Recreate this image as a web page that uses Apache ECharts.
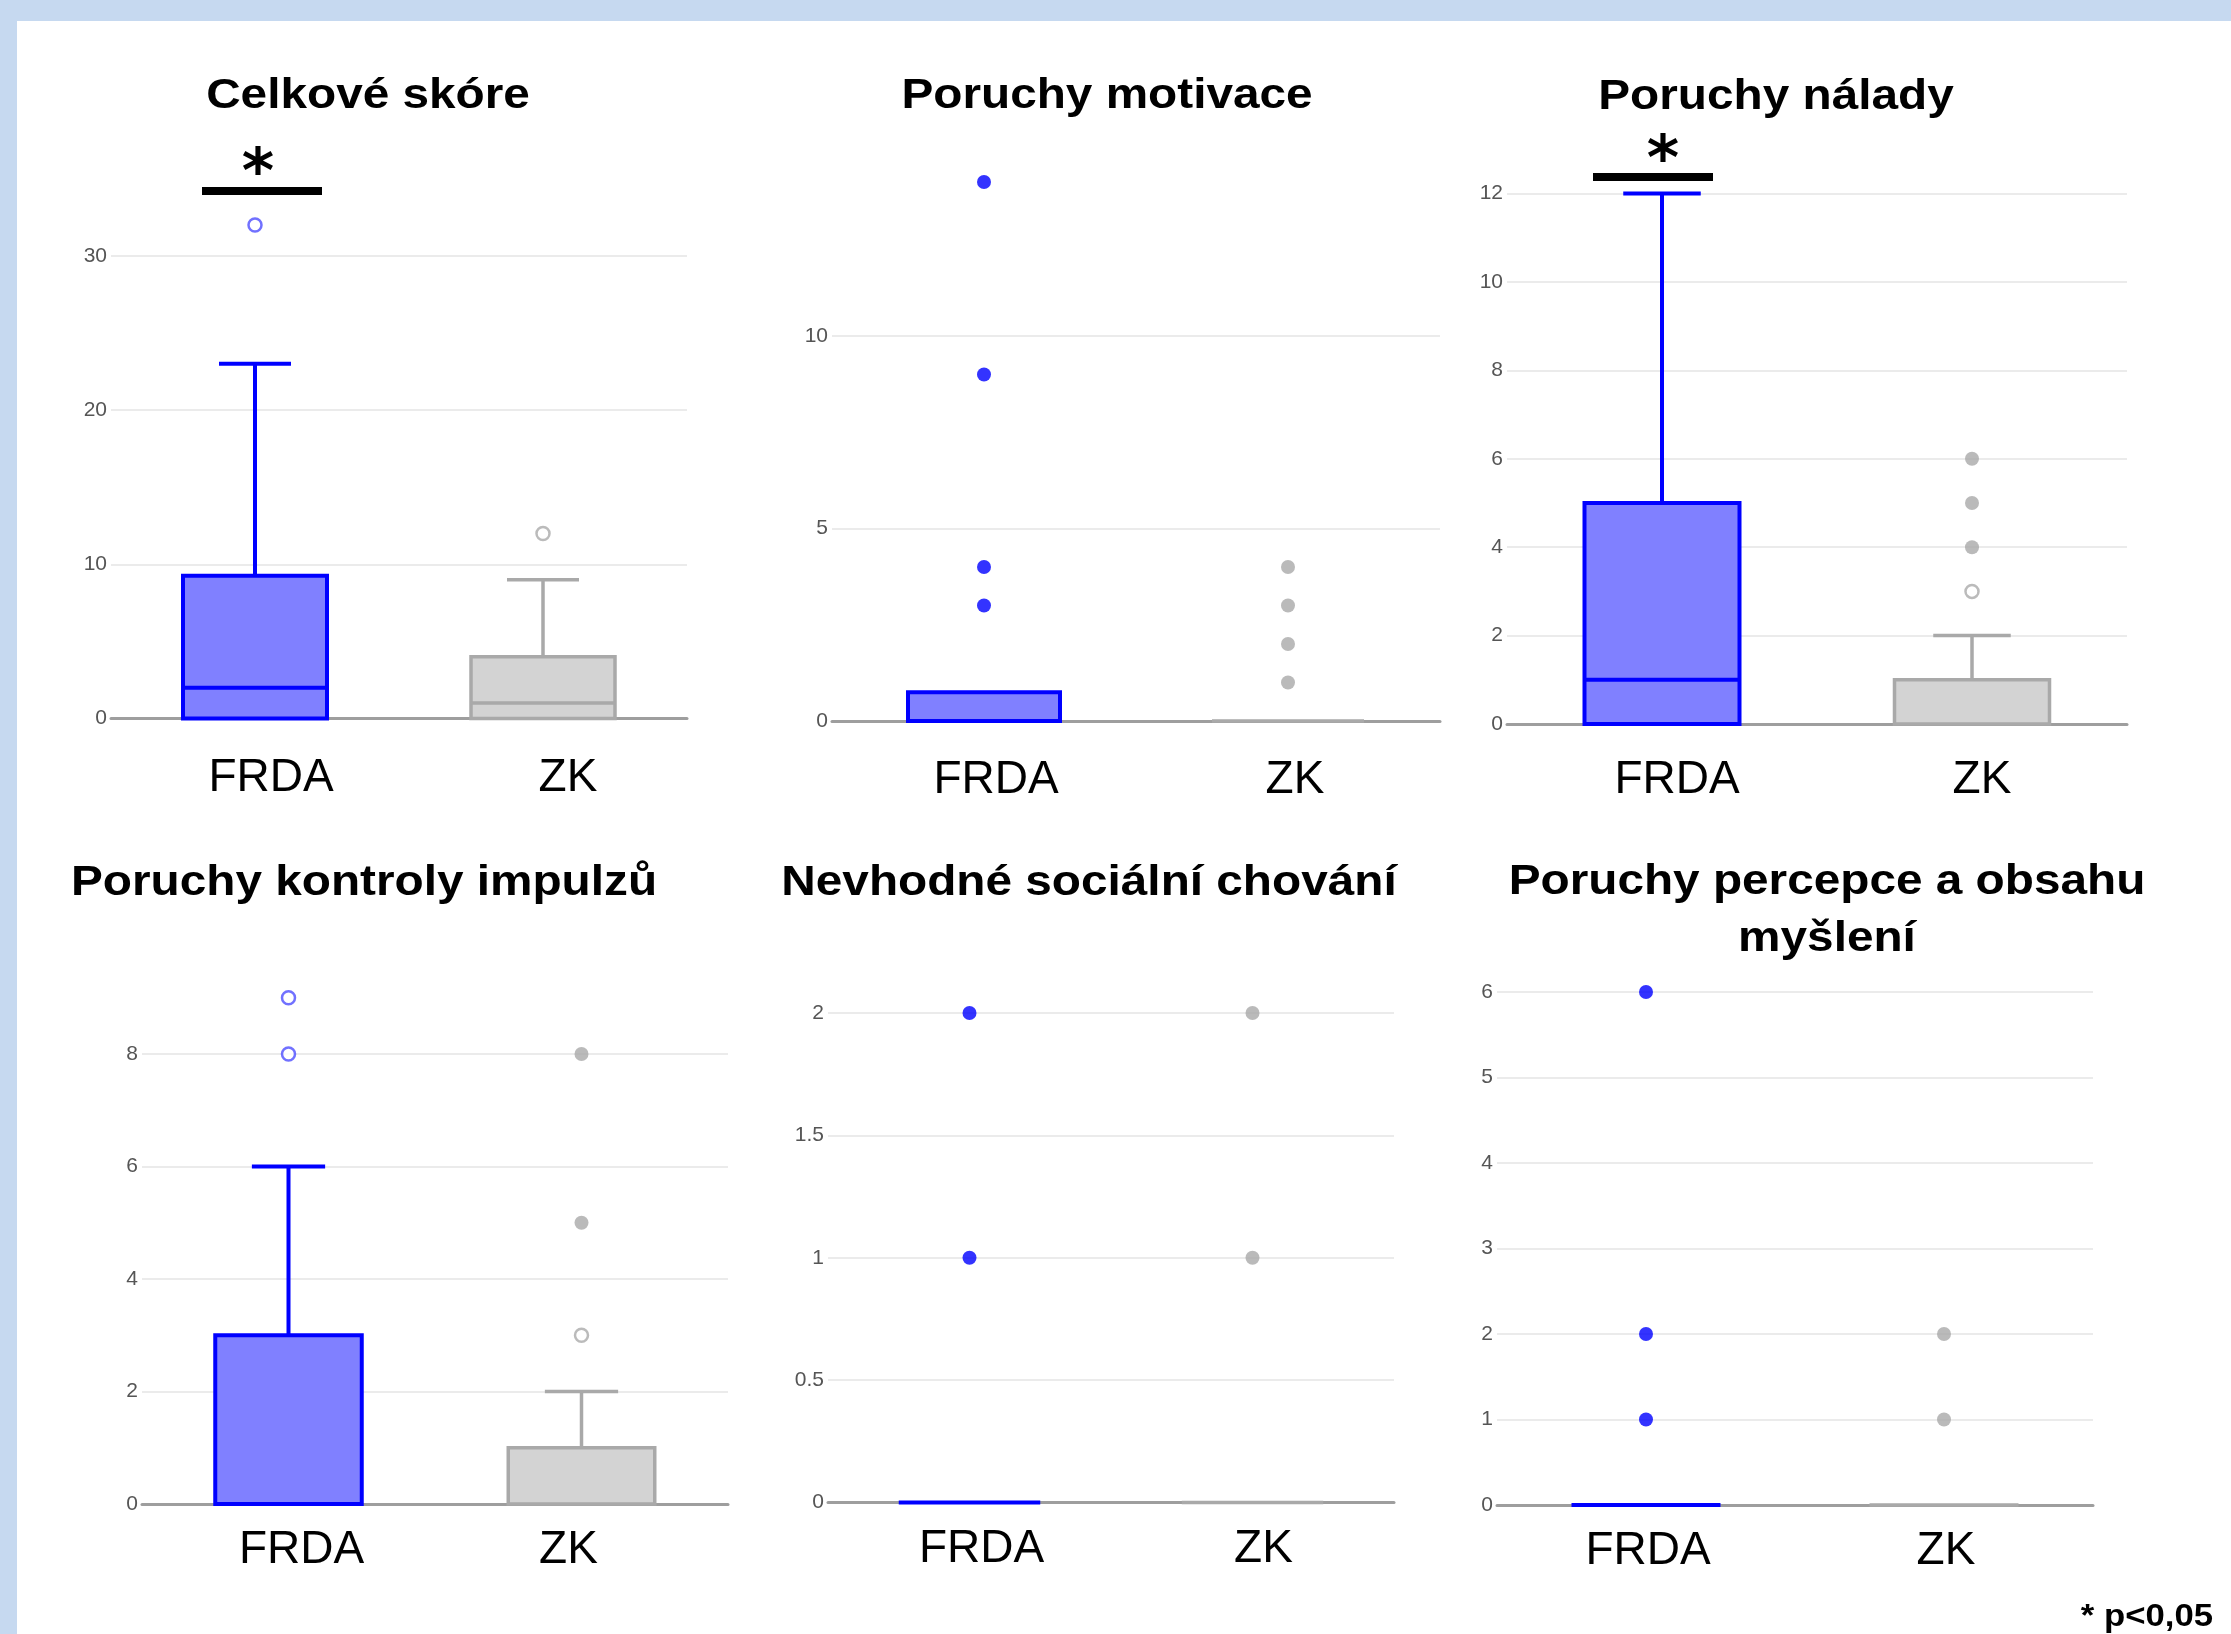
<!DOCTYPE html>
<html><head><meta charset="utf-8">
<script src="https://cdn.jsdelivr.net/npm/echarts@6/dist/echarts.min.js"></script>
<style>
html,body{margin:0;padding:0;width:2231px;height:1634px;background:#C6D9F0;overflow:hidden}
#panel{position:absolute;left:17px;top:21px;right:0;bottom:0;background:#fff}
#chart{position:absolute;left:0;top:0;width:2231px;height:1634px}
</style></head><body><div id="panel"></div><div id="chart"></div>
<script>
// ---------- DATA ----------
const categories = ['FRDA', 'ZK'];
const titles = ['Celkové skóre', 'Poruchy motivace', 'Poruchy nálady',
  'Poruchy kontroly impulzů', 'Nevhodné sociální chování', 'Poruchy percepce a obsahu\nmyšlení'];
// box statistics per panel: [min, Q1, median, Q3, upper whisker]
const frdaStats = [[0,0,2,9.25,23],[0,0,0,0.75,0.75],[0,0,1,5,12],[0,0,0,3,6],[0,0,0,0,0],[0,0,0,0,0]];
const zkStats   = [[0,0,1,4,9],[0,0,0,0,0],[0,0,0,1,2],[0,0,0,1,2],[0,0,0,0,0],[0,0,0,0,0]];
// outliers (filled = extreme points, hollow = outliers)
const frdaFilled = [[],[14,9,4,3],[],[],[2,1],[6,2,1]];
const frdaHollow = [[32],[],[],[9,8],[],[]];
const zkFilled   = [[],[4,3,2,1],[6,5,4],[8,5],[2,1],[2,1]];
const zkHollow   = [[12],[],[3],[3],[],[]];
// y tick labels per panel
const yTicks = [[0,10,20,30],[0,5,10],[0,2,4,6,8,10,12],[0,2,4,6,8],[0,0.5,1,1.5,2],[0,1,2,3,4,5,6]];
const significant = [true,false,true,false,false,false];
const footnote = '* p<0,05';

// ---------- LAYOUT / STYLE ----------
const layout = [
  {left:111, right:687, zero:718.5, unit:15.42, max:33, step:10, margin:37, shift:[16,25], title:[368,96]},
  {left:832, right:1440, zero:721, unit:38.5, max:15, step:5, margin:36, shift:[12,7], title:[1107,96]},
  {left:1507, right:2127, zero:724, unit:44.2, max:12, step:2, margin:33, shift:[15,10], title:[1776,97]},
  {left:142, right:728, zero:1504, unit:56.25, max:10, step:2, margin:23, shift:[13,-13], title:[364,883]},
  {left:828, right:1394, zero:1502.5, unit:244.75, max:2, step:0.5, margin:24, shift:[12,11], title:[1089,883]},
  {left:1497, right:2093, zero:1505, unit:85.5, max:6, step:1, margin:23, shift:[2,2], title:[1827,911]}
];
const sigLayout = {0:{lineY:191, starY:164, dx:7, starDx:-4}, 2:{lineY:177, starY:151, dx:-9, starDx:10}};
const boxStyle = [
  {fill:'#8080ff', stroke:'#0000ff', lw:4},
  {fill:'#d3d3d3', stroke:'#a9a9a9', lw:3.5}
];
const FONT = "'Liberation Sans', Arial, sans-serif";

function renderBox(params, api) {
  const k = api.value(0);
  const st = boxStyle[k];
  const v = [1,2,3,4,5].map(d => api.value(d));
  const cx = api.coord([k, 0])[0];
  const bw = api.size([1, 0])[0] * 0.5;
  const y = v.map(val => api.coord([k, val])[1]);
  const ls = {stroke: st.stroke, lineWidth: st.lw};
  const ch = [];
  if (v[4] > v[3]) {
    ch.push({type:'line', shape:{x1:cx, y1:y[3], x2:cx, y2:y[4]}, style:ls});
    ch.push({type:'line', shape:{x1:cx-bw/4, y1:y[4], x2:cx+bw/4, y2:y[4]}, style:ls});
  }
  if (v[0] < v[1]) {
    ch.push({type:'line', shape:{x1:cx, y1:y[1], x2:cx, y2:y[0]}, style:ls});
    ch.push({type:'line', shape:{x1:cx-bw/4, y1:y[0], x2:cx+bw/4, y2:y[0]}, style:ls});
  }
  if (v[3] > v[1]) {
    ch.push({type:'rect', shape:{x:cx-bw/2, y:y[3], width:bw, height:y[1]-y[3]},
      style:{fill:st.fill, stroke:st.stroke, lineWidth:st.lw}});
    if (v[2] > v[1]) ch.push({type:'line', shape:{x1:cx-bw/2, y1:y[2], x2:cx+bw/2, y2:y[2]}, style:ls});
  } else {
    ch.push({type:'line', shape:{x1:cx-bw/2, y1:y[1], x2:cx+bw/2, y2:y[1]}, style:ls});
  }
  return {type:'group', children: ch};
}

const grids = [], xAxes = [], yAxes = [], series = [];
layout.forEach((L, i) => {
  grids.push({left:L.left, width:L.right-L.left, top:L.zero - L.max*L.unit, height:L.max*L.unit,
    containLabel:false, outerBoundsMode:'none'});
  const pad = dx => dx >= 0 ? [0,0,0,2*dx] : [0,-2*dx,0,0];
  xAxes.push({type:'category', gridIndex:i, data:categories, boundaryGap:true,
    axisLine:{show:true, onZero:false, lineStyle:{color:'#9e9e9e', width:3}},
    axisTick:{show:false}, splitLine:{show:false},
    axisLabel:{margin:L.margin, color:'#000', fontSize:46, fontFamily:FONT, interval:0,
      formatter: v => '{' + (v === 'FRDA' ? 'a' : 'b') + '|' + v + '}',
      rich:{a:{fontSize:46, fontFamily:FONT, color:'#000', padding:pad(L.shift[0])},
            b:{fontSize:46, fontFamily:FONT, color:'#000', padding:pad(L.shift[1])}}}});
  yAxes.push({type:'value', gridIndex:i, min:0, max:L.max, interval:L.step,
    axisLine:{show:false}, axisTick:{show:false, customValues:yTicks[i]},
    axisLabel:{customValues:yTicks[i], margin:4, color:'#555555', fontSize:21, fontFamily:FONT},
    splitLine:{show:true, lineStyle:{color:'#ebebeb', width:2}}});
  series.push({type:'custom', xAxisIndex:i, yAxisIndex:i, renderItem:renderBox, clip:false,
    encode:{x:0, y:[1,2,3,4,5]},
    data:[[0].concat(frdaStats[i]), [1].concat(zkStats[i])], z:3});
  const pts = (arr, cat) => arr.map(v => [cat, v]);
  series.push({type:'scatter', xAxisIndex:i, yAxisIndex:i, symbol:'circle', symbolSize:14, z:4,
    itemStyle:{color:'#0000ff'}, data:pts(frdaFilled[i], 'FRDA')});
  series.push({type:'scatter', xAxisIndex:i, yAxisIndex:i, symbol:'circle', symbolSize:13, z:4,
    itemStyle:{color:'#ffffff', borderColor:'#4d4dff', borderWidth:2.5}, data:pts(frdaHollow[i], 'FRDA')});
  series.push({type:'scatter', xAxisIndex:i, yAxisIndex:i, symbol:'circle', symbolSize:14, z:4,
    itemStyle:{color:'#a9a9a9'}, data:pts(zkFilled[i], 'ZK')});
  series.push({type:'scatter', xAxisIndex:i, yAxisIndex:i, symbol:'circle', symbolSize:13, z:4,
    itemStyle:{color:'#ffffff', borderColor:'#aaaaaa', borderWidth:2.5}, data:pts(zkHollow[i], 'ZK')});
});

const chart = echarts.init(document.getElementById('chart'), null, {renderer:'canvas'});
chart.setOption({animation:false, backgroundColor:'transparent',
  grid:grids, xAxis:xAxes, yAxis:yAxes, series:series});

// titles, significance marks, footnote
const gfx = [];
layout.forEach((L, i) => {
  gfx.push({type:'text', x:L.title[0], y:L.title[1], scaleX:1.11, z:10,
    style:{x:0, y:0, text:titles[i], align:'center', verticalAlign:'middle',
      font:"bold 43px " + FONT, lineHeight:57, fill:'#000'}});
  if (significant[i]) {
    const s = sigLayout[i];
    const cx = chart.convertToPixel({xAxisIndex:i, yAxisIndex:i}, ['FRDA', 0])[0] + s.dx;
    gfx.push({type:'rect', z:10, shape:{x:cx-60, y:s.lineY-4, width:120, height:8}, style:{fill:'#000'}});
    gfx.push({type:'text', z:10, x:cx + s.starDx, y:s.starY + 12,
      style:{x:0, y:0, text:'*', align:'center', verticalAlign:'middle',
        font:"bold 62px 'DejaVu Sans', sans-serif", fill:'#000'}});
  }
});
gfx.push({type:'text', z:10, x:2213, y:1617, scaleX:1.12,
  style:{x:0, y:0, text:footnote, align:'right', verticalAlign:'middle', font:"bold 31px " + FONT, fill:'#000'}});
chart.setOption({graphic:gfx});
</script></body></html>
